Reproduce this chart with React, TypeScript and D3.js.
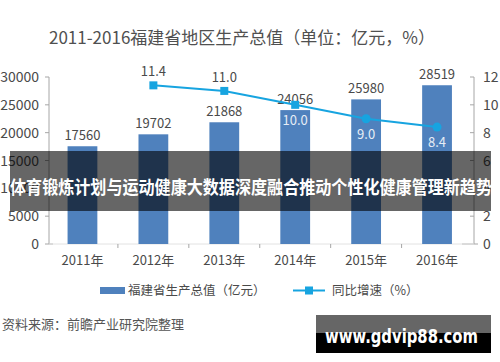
import { useEffect, useRef } from 'react';
import * as d3 from 'd3';

const years = ['2011年', '2012年', '2013年', '2014年', '2015年', '2016年'];
const gdp = [17560, 19702, 21868, 24056, 25980, 28519];
const growth = [null, 11.4, 11.0, 10.0, 9.0, 8.4];
const leftTicks = [0, 5000, 10000, 15000, 20000, 25000, 30000];
const rightTicks = [0, 2, 4, 6, 8, 10, 12];

const title = '2011-2016福建省地区生产总值（单位：亿元，%）';
const banner = '体育锻炼计划与运动健康大数据深度融合推动个性化健康管理新趋势';
const source = '资料来源：前瞻产业研究院整理';
const watermark = 'www.gdvip88.com';

const App = () => {
    const svgRef = useRef<SVGSVGElement>(null);

    useEffect(() => {
        const svg = d3.select(svgRef.current);
        svg.selectAll('*').remove();

        const width = 500;
        const height = 362;
        const font = "'Noto Sans CJK SC', 'Noto Sans', sans-serif";
        const barColor = '#4f81bd';
        const lineColor = '#17a4e0';
        const axisColor = '#a6a6a6';
        const textColor = '#4a4a4a';

        svg.append('rect').attr('width', width).attr('height', height).attr('fill', '#fff');

        const x = d3.scaleBand().domain(years).range([47, 472.5]).paddingInner(0.58).paddingOuter(0.29);
        const yL = d3.scaleLinear().domain([0, 30000]).range([244, 77]);
        const yR = d3.scaleLinear().domain([0, 12]).range([244, 77]);
        const cx = (d) => x(d) + x.bandwidth() / 2;

        // title
        svg.append('text')
            .attr('x', 242)
            .attr('y', 44)
            .attr('text-anchor', 'middle')
            .attr('font-family', font)
            .attr('font-size', 17)
            .attr('fill', '#505050')
            .text(title);

        // left axis
        const left = svg.append('g').attr('transform', 'translate(49,0)');
        left.append('line').attr('y1', yL(30000)).attr('y2', yL(0)).attr('stroke', axisColor);
        left.selectAll('.lt')
            .data(leftTicks)
            .enter()
            .append('line')
            .attr('x1', -4)
            .attr('x2', (d) => (d === 0 ? 4 : 0))
            .attr('y1', (d) => yL(d))
            .attr('y2', (d) => yL(d))
            .attr('stroke', axisColor);
        left.selectAll('.ll')
            .data(leftTicks)
            .enter()
            .append('text')
            .attr('x', -10)
            .attr('y', (d) => yL(d) + 5)
            .attr('text-anchor', 'end')
            .attr('font-family', font)
            .attr('font-size', 14)
            .attr('fill', textColor)
            .text((d) => d);

        // right axis
        const right = svg.append('g').attr('transform', 'translate(474,0)');
        right.append('line').attr('y1', yR(12)).attr('y2', yR(0)).attr('stroke', axisColor);
        right.selectAll('.rt')
            .data(rightTicks)
            .enter()
            .append('line')
            .attr('x1', (d) => (d === 0 ? -12 : -4))
            .attr('x2', (d) => (d === 0 ? 4 : 0))
            .attr('y1', (d) => yR(d))
            .attr('y2', (d) => yR(d))
            .attr('stroke', axisColor);
        right.selectAll('.rl')
            .data(rightTicks)
            .enter()
            .append('text')
            .attr('x', 9)
            .attr('y', (d) => yR(d) + 5)
            .attr('font-family', font)
            .attr('font-size', 14)
            .attr('fill', textColor)
            .text((d) => d);

        // x axis
        svg.append('line')
            .attr('x1', 49)
            .attr('x2', 474)
            .attr('y1', yL(0))
            .attr('y2', yL(0))
            .attr('stroke', '#e2e2e2');
        svg.selectAll('.xt')
            .data(years.slice(1))
            .enter()
            .append('line')
            .attr('x1', (d) => x(d) - (x.step() - x.bandwidth()) / 2)
            .attr('x2', (d) => x(d) - (x.step() - x.bandwidth()) / 2)
            .attr('y1', yL(0))
            .attr('y2', yL(0) + 4)
            .attr('stroke', axisColor);
        svg.selectAll('.xl')
            .data(years)
            .enter()
            .append('text')
            .attr('x', (d) => cx(d))
            .attr('y', 265)
            .attr('text-anchor', 'middle')
            .attr('font-family', font)
            .attr('font-size', 13)
            .attr('fill', textColor)
            .text((d) => d);

        // bars
        svg.selectAll('.bar')
            .data(gdp)
            .enter()
            .append('rect')
            .attr('x', (d, i) => x(years[i]))
            .attr('y', (d) => yL(d))
            .attr('width', x.bandwidth())
            .attr('height', (d) => yL(0) - yL(d))
            .attr('fill', barColor);

        svg.selectAll('.bl')
            .data(gdp)
            .enter()
            .append('text')
            .attr('x', (d, i) => cx(years[i]))
            .attr('y', (d) => yL(d) - 6)
            .attr('text-anchor', 'middle')
            .attr('font-family', font)
            .attr('font-size', 13)
            .attr('fill', textColor)
            .text((d) => d);

        // growth line
        const pts = growth.map((g, i) => ({ year: years[i], g })).filter((d) => d.g !== null);
        const line = d3
            .line()
            .x((d) => cx(d.year))
            .y((d) => yR(d.g));
        svg.append('path')
            .datum(pts)
            .attr('fill', 'none')
            .attr('stroke', lineColor)
            .attr('stroke-width', 2)
            .attr('d', line);

        pts.forEach((d, i) => {
            if (i < 3) {
                svg.append('rect')
                    .attr('x', cx(d.year) - 4)
                    .attr('y', yR(d.g) - 4)
                    .attr('width', 8)
                    .attr('height', 8)
                    .attr('fill', lineColor);
            } else {
                svg.append('circle')
                    .attr('cx', cx(d.year))
                    .attr('cy', yR(d.g))
                    .attr('r', 4.5)
                    .attr('fill', lineColor);
            }
            const above = i < 2;
            svg.append('text')
                .attr('x', cx(d.year))
                .attr('y', above ? yR(d.g) - 9 : yR(d.g) + 20)
                .attr('text-anchor', 'middle')
                .attr('font-family', font)
                .attr('font-size', 13)
                .attr('fill', above ? textColor : '#e6edf6')
                .text(d.g.toFixed(1));
        });

        // legend
        const lg = svg.append('g');
        lg.append('rect').attr('x', 100).attr('y', 287).attr('width', 25).attr('height', 7).attr('fill', barColor);
        lg.append('text')
            .attr('x', 128)
            .attr('y', 295)
            .attr('font-family', font)
            .attr('font-size', 12.5)
            .attr('fill', textColor)
            .text('福建省生产总值（亿元）');
        lg.append('line')
            .attr('x1', 293)
            .attr('x2', 325)
            .attr('y1', 290.5)
            .attr('y2', 290.5)
            .attr('stroke', lineColor)
            .attr('stroke-width', 2);
        lg.append('rect').attr('x', 305).attr('y', 286.5).attr('width', 8).attr('height', 8).attr('fill', lineColor);
        lg.append('text')
            .attr('x', 332)
            .attr('y', 295)
            .attr('font-family', font)
            .attr('font-size', 12.5)
            .attr('fill', textColor)
            .text('同比增速（%）');

        // source
        svg.append('text')
            .attr('x', 2)
            .attr('y', 329)
            .attr('font-family', font)
            .attr('font-size', 13)
            .attr('fill', '#555')
            .text(source);

        // overlay banner
        svg.append('rect')
            .attr('x', 10)
            .attr('y', 151)
            .attr('width', 481)
            .attr('height', 60)
            .attr('fill', 'rgba(0,0,0,0.6)');
        svg.append('text')
            .attr('x', 10)
            .attr('y', 194)
            .attr('font-family', font)
            .attr('font-size', 18)
            .attr('font-weight', 'bold')
            .attr('fill', '#fff')
            .attr('textLength', 482)
            .attr('lengthAdjust', 'spacingAndGlyphs')
            .text(banner);

        // watermark
        svg.append('rect').attr('x', 316).attr('y', 315).attr('width', 175).attr('height', 38).attr('fill', '#000');
        svg.append('rect').attr('x', 316).attr('y', 315).attr('width', 175).attr('height', 18).attr('fill', '#666');
        svg.append('text')
            .attr('x', 325)
            .attr('y', 343)
            .attr('font-family', "'DejaVu Sans', sans-serif")
            .attr('font-size', 19)
            .attr('font-weight', 'bold')
            .attr('fill', '#fff')
            .attr('textLength', 153)
            .attr('lengthAdjust', 'spacingAndGlyphs')
            .text(watermark);
    }, []);

    return (
        <svg
            ref={svgRef}
            width={500}
            height={362}
            style={{ position: 'absolute', left: 0, top: 0 }}
        ></svg>
    );
};

export default App;
